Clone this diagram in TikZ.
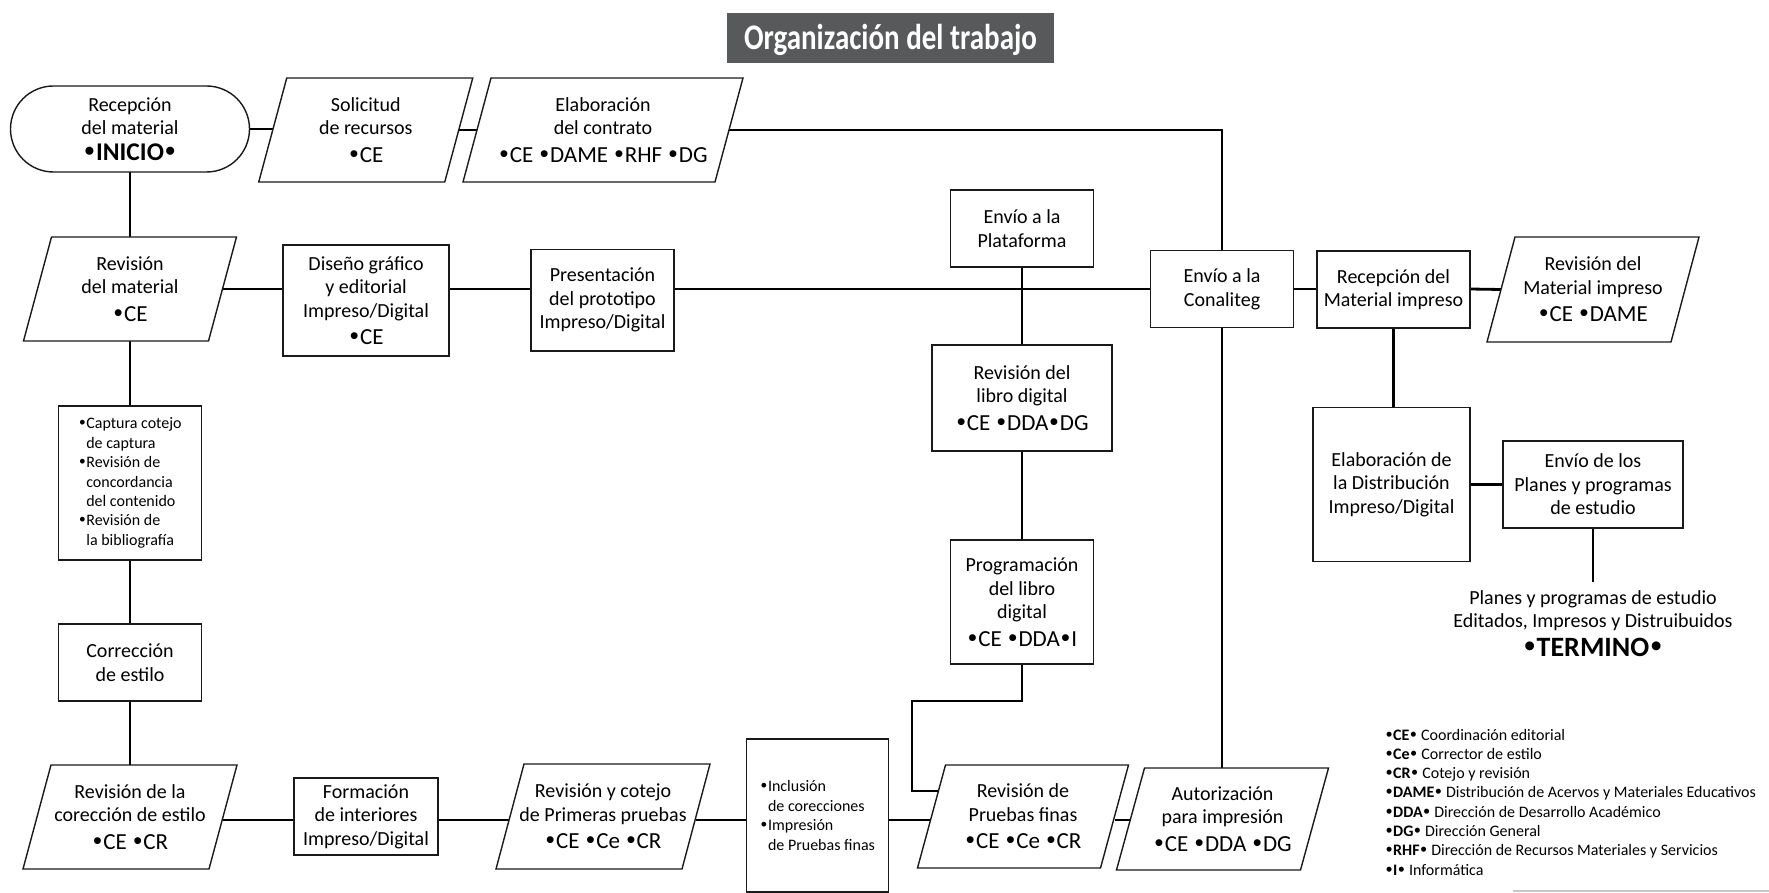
\documentclass[tikz,border=0pt]{standalone}
\usepackage{fontspec}
\setmainfont{Carlito}
\newfontfamily\bulfont{Liberation Sans}
\usetikzlibrary{calc}
\pgfdeclarelayer{bg}
\pgfsetlayers{bg,main}
\definecolor{titlegray}{HTML}{58595B}
\definecolor{edge}{HTML}{1A1A1A}
\newcommand\bu{\makebox[0.5em]{\bulfont\scalebox{1.1}{•}}}
\newcommand\mainsz{\fontsize{20}{23.5}\selectfont}
\newcommand\bl{\fontsize{23}{27}\selectfont}
\newcommand\bigb{\fontsize{25.5}{28}\selectfont\bfseries}
\newcommand\bigc{\fontsize{28}{30}\selectfont\bfseries}
\newcommand\smallsz{\fontsize{16}{19.4}\selectfont}
\newcommand\ind{\hspace*{0.5em}}
\tikzset{
  boxline/.style={draw=edge, line width=1.4pt},
  conn/.style={draw=black, line width=2.8pt},
  pgframe/.style={draw=none, inner sep=0pt, outer sep=0pt},
  rbox/.style={boxline, fill=white, inner sep=0pt, outer sep=0pt, align=center, font=\mainsz},
  txt/.style={inner sep=0pt, align=center, font=\mainsz},
  legend/.style={inner sep=0pt, anchor=base west, font=\fontsize{16}{19.3}\selectfont},
}
\newcommand\pgram[6]{%
  \path node[pgframe, minimum width=#4pt, minimum height=#5pt] (#1) at (#2,#3) {};
  \draw[boxline, fill=white] ($(#1.north west)+(14pt,0pt)$) -- ($(#1.north east)+(14pt,0pt)$) -- ($(#1.south east)+(-14pt,0pt)$) -- ($(#1.south west)+(-14pt,0pt)$) -- cycle;
  \node[txt] (#1-t) at (#1) {#6};
}
\begin{document}
\begin{tikzpicture}[x=1pt, y=-1pt]
\useasboundingbox (0,0) rectangle (1769,893);

% title
\node[fill=titlegray, draw=none, minimum width=327pt, minimum height=50pt, inner sep=0pt] (title) at (890.5,37.7) {};
\node[anchor=base, inner sep=0pt, text=white] (titletext) at (890.5,49.5)
  {\resizebox{293pt}{\height}{\fontsize{36}{36}\selectfont\bfseries Organización del trabajo}};

% top row
\node[rbox, rounded corners=43pt, minimum width=239pt, minimum height=86pt] (rec) at (130,129)
  {Recepción\\del material\\[2pt]{\bigb \bu INICIO\bu}};
\pgram{sol}{365.75}{130}{186}{104}{Solicitud\\de recursos\\[4pt]{\bl \bu CE}}
\pgram{elab}{603}{130}{252}{104}{Elaboración\\del contrato\\[4pt]{\bl \bu CE \bu DAME \bu RHF \bu DG}}

% second row
\pgram{revmat}{130}{289}{185}{104}{Revisión\\del material\\[4pt]{\bl \bu CE}}
\node[rbox, minimum width=166pt, minimum height=111pt] (dis) at (366,300.5)
  {Diseño gráfico\\y editorial\\Impreso/Digital\\[4pt]{\bl \bu CE}};
\node[rbox, minimum width=143pt, minimum height=101pt] (pres) at (602.5,300.3)
  {Presentación\\del prototipo\\Impreso/Digital};
\node[rbox, minimum width=143pt, minimum height=77pt] (plat) at (1022,228.5)
  {Envío a la\\Plataforma};
\node[rbox, minimum width=143pt, minimum height=77pt] (conal) at (1222,289.2)
  {Envío a la\\Conaliteg};
\node[rbox, minimum width=153pt, minimum height=77pt] (recmi) at (1393.5,289.5)
  {Recepción del\\Material impreso};
\pgram{revmi}{1593}{289.5}{184}{105}{Revisión del\\Material impreso\\[4pt]{\bl \bu CE \bu DAME}}

% middle column
\node[rbox, minimum width=180pt, minimum height=106pt] (revlib) at (1022,398)
  {Revisión del\\libro digital\\[4pt]{\bl \bu CE \bu DDA\bu DG}};
\node[rbox, minimum width=143pt, minimum height=124pt] (prog) at (1022,602)
  {Programación\\del libro\\digital\\[4pt]{\bl \bu CE \bu DDA\bu I}};

% right column
\node[rbox, minimum width=157pt, minimum height=154pt] (edist) at (1391.5,484.7)
  {Elaboración de\\la Distribución\\Impreso/Digital};
\node[rbox, minimum width=180pt, minimum height=87pt] (envio) at (1593,484.5)
  {Envío de los\\Planes y programas\\de estudio};
\node[txt, anchor=north] (term) at (1593,590)
  {Planes y programas de estudio\\Editados, Impresos y Distruibuidos\\[5pt]{\bigc \bu TERMINO\bu}};
\coordinate (termtop) at (1593,581.7);

% left column
\node[rbox, minimum width=143pt, minimum height=154pt, align=left, font=\smallsz] (cap) at (130,483)
  {\bu Captura cotejo\\\ind de captura\\\bu Revisión de\\\ind concordancia\\\ind del contenido\\\bu Revisión de\\\ind la bibliografía};
\node[rbox, minimum width=143pt, minimum height=77pt] (corr) at (130,662.5)
  {Corrección\\de estilo};

% bottom row
\pgram{revcor}{130}{817}{186}{104}{Revisión de la\\corección de estilo\\[4pt]{\bl \bu CE \bu CR}}
\node[rbox, minimum width=144pt, minimum height=77pt] (form) at (366,816.5)
  {Formación\\de interiores\\Impreso/Digital};
\pgram{revcot}{603}{816.5}{186}{105}{Revisión y cotejo\\de Primeras pruebas\\[4pt]{\bl \bu CE \bu Ce \bu CR}}
\node[rbox, minimum width=142pt, minimum height=153pt, align=left, font=\smallsz] (inc) at (817.5,815.5)
  {\bu Inclusión\\\ind de corecciones\\\bu Impresión\\\ind de Pruebas finas};
\pgram{pf}{1023}{816.5}{183}{103}{Revisión de\\Pruebas finas\\[4pt]{\bl \bu CE \bu Ce \bu CR}}
\pgram{aut}{1222.5}{819}{184}{102}{Autorización\\para impresión\\[4pt]{\bl \bu CE \bu DDA \bu DG}}

% legend
\node[legend] (l1) at (1385,740) {\textbf{\bu CE\bu} Coordinación editorial};
\node[legend] (l2) at (1385,759.3) {\textbf{\bu Ce\bu} Corrector de estilo};
\node[legend] (l3) at (1385,778.6) {\textbf{\bu CR\bu} Cotejo y revisión};
\node[legend] (l4) at (1385,797.9) {\textbf{\bu DAME\bu} Distribución de Acervos y Materiales Educativos};
\node[legend] (l5) at (1385,817.2) {\textbf{\bu DDA\bu} Dirección de Desarrollo Académico};
\node[legend] (l6) at (1385,836.5) {\textbf{\bu DG\bu} Dirección General};
\node[legend] (l7) at (1385,855.8) {\textbf{\bu RHF\bu} Dirección de Recursos Materiales y Servicios};
\node[legend] (l8) at (1385,875.1) {\textbf{\bu I\bu} Informática};

\draw[draw=black!22, line width=1.5pt] (1513,891) -- (1769,891);

% connectors
\coordinate (r2) at (0,289);
\coordinate (r5) at (0,820);
\coordinate (ebend) at (912,701);
\coordinate (eend) at ($(pf.west)+(6.9pt,25.5pt)$);
\begin{pgfonlayer}{bg}
\draw[conn] (rec.east) -- (rec.east -| sol.west);
\draw[conn] (sol.east) -- (elab.west);
\draw[conn] (elab.east) -| (conal.north);
\draw[conn] (conal.south) -- (conal.south |- aut.north);
\draw[conn] (rec.south) -- (revmat.north);
\draw[conn] (revmat.south) -- (cap.north);
\draw[conn] (cap.south) -- (corr.north);
\draw[conn] (corr.south) -- (revcor.north);
\draw[conn] (revmat.east) -- (dis.west |- r2);
\draw[conn] (dis.east |- r2) -- (pres.west |- r2);
\draw[conn] (pres.east |- r2) -- (conal.west |- r2);
\draw[conn] (conal.east |- r2) -- (recmi.west |- r2);
\draw[conn] (recmi.east |- r2) -- (revmi.west);
\draw[conn] (plat.south) -- (revlib.north);
\draw[conn] (revlib.south) -- (prog.north);
\draw[conn] (prog.south) |- (ebend) |- (eend);
\draw[conn] (recmi.south) -- (recmi.south |- edist.north);
\draw[conn] (edist.east) -- (edist.east -| envio.west);
\draw[conn] (envio.south) -- (termtop);
\draw[conn] (revcor.east |- r5) -- (form.west |- r5);
\draw[conn] (form.east |- r5) -- (revcot.west |- r5);
\draw[conn] (revcot.east |- r5) -- (inc.west |- r5);
\draw[conn] (inc.east |- r5) -- (pf.west |- r5);
\draw[conn] (pf.east |- r5) -- (aut.west |- r5);
\end{pgfonlayer}
\end{tikzpicture}
\end{document}
